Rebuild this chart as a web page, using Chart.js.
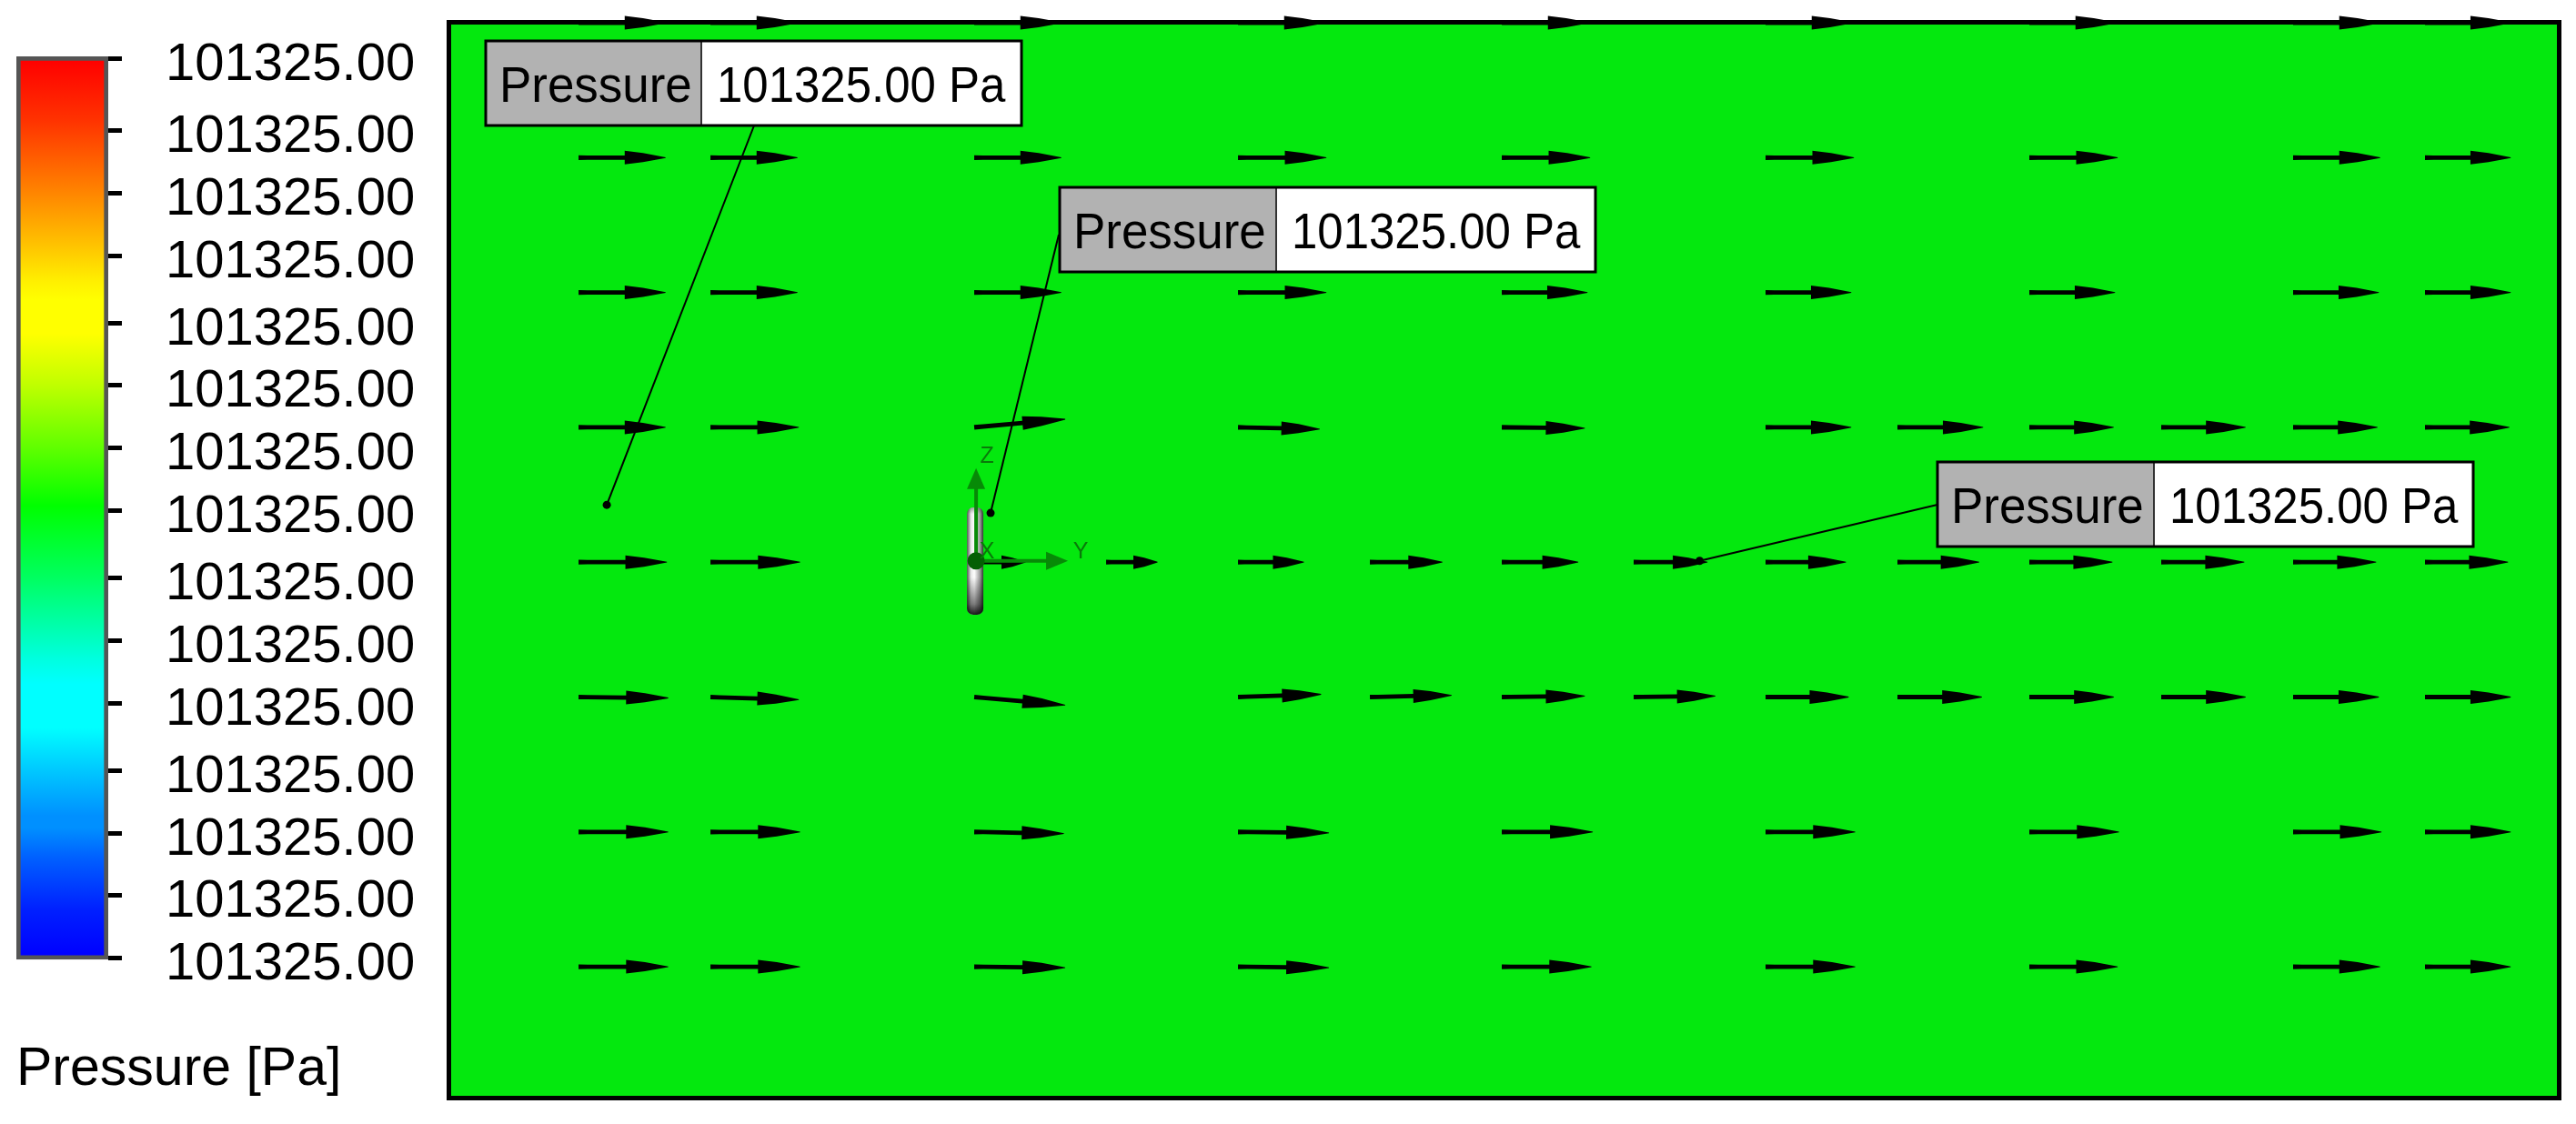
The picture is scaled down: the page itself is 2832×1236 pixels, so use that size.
<!DOCTYPE html>
<html>
<head>
<meta charset="utf-8">
<title>Pressure</title>
<script src="https://cdn.jsdelivr.net/npm/chart.js@4"></script>
<style>
    html,body{margin:0;padding:0;background:#fff;}
    canvas{position:absolute;left:0;top:0;}
</style>
</head>
<body>
<canvas id="plotChart" width="2832" height="1236"></canvas>
<canvas id="legendChart" width="480" height="1236"></canvas>
<script>
// colour bar
const legendTickPos=[989,910,841,772,698,630,561,492,418,349,280,206,137,69,0];
const legendTickLabels=["101325.00","101325.00","101325.00","101325.00","101325.00","101325.00","101325.00","101325.00","101325.00","101325.00","101325.00","101325.00","101325.00","101325.00","101325.00"];
const legendTitle="Pressure [Pa]";
const rampPos=[0,67,141,201,244,264,301,357,426,490,569,614,659,686,734,781,831,844,877,934,985];
const rampColors=["#ff0000","#ff3300","#ff8000","#ffc000","#fff000","#ffff00","#ffff00","#c0ff00","#60ff00","#00ff00","#00ff60","#00ffa0","#00ffe0","#00ffff","#00ffff","#00c8ff","#0090ff","#0090ff","#0060ff","#0020ff","#0000ff"];

// velocity arrows, one list per row of the grid
const row0Cols=[0,1,3,5,7,9,11,13,14];
const row0Len=[.66,.66,.66,.66,.66,.66,.66,.66,.65];
const row1Cols=[0,1,3,5,7,9,11,13,14];
const row1Len=[.66,.66,.66,.67,.67,.67,.67,.66,.65];
const row2Cols=[0,1,3,5,7,9,11,13,14];
const row2Len=[.66,.66,.66,.67,.65,.65,.65,.65,.65];
const row3Cols=[0,1,3,5,7,9,10,11,12,13,14];
const row3Len=[.66,.67,.69,.62,.63,.65,.65,.64,.64,.64,.64];
const row3Tilt=[0,0,-.06,.013,.007,0,0,0,0,0,0];
const row4Cols=[0,1,3,4,5,6,7,8,9,10,11,12,13,14];
const row4Len=[.67,.68,.39,.39,.50,.55,.58,.56,.61,.62,.63,.63,.63,.63];
const row5Cols=[0,1,3,5,6,7,8,9,10,11,12,13,14];
const row5Len=[.68,.67,.69,.63,.62,.63,.62,.63,.64,.64,.64,.65,.65];
const row5Tilt=[.007,.02,.06,-.02,-.013,-.007,-.007,0,0,0,0,0,0];
const row6Cols=[0,1,3,5,7,9,11,13,14];
const row6Len=[.68,.68,.68,.69,.69,.68,.68,.67,.65];
const row6Tilt=[0,0,.013,.007,0,0,0,0,0];
const row7Cols=[0,1,3,5,7,9,11,13,14];
const row7Len=[.68,.68,.69,.69,.68,.68,.67,.66,.65];
const row7Tilt=[0,0,.007,.007,0,0,0,0,0];

// probes: where the leader starts, where it meets the box
const probeCols=[.214,3.124,8.5];
const probeRows=[3.575,3.635,3.99];
const leaderEndCols=[1.331,3.641,10.303];
const leaderEndRows=[.762,1.571,3.574];
const calloutLabel="Pressure";
const calloutValues=["101325.00 Pa","101325.00 Pa","101325.00 Pa"];

// body at the origin
const originCol=3.014;
const originRow=3.99;
const bodyCols=[2.945,3.069];
const bodyRows=[3.594,4.39];

let makeArrows=(row,cols,lens,tilts)=>{
    return cols.map((c,i)=>({x:c,y:row,len:lens[i],tilt:tilts?tilts[i]:0}));
}
let arrowData=[].concat(
    makeArrows(0,row0Cols,row0Len),
    makeArrows(1,row1Cols,row1Len),
    makeArrows(2,row2Cols,row2Len),
    makeArrows(3,row3Cols,row3Len,row3Tilt),
    makeArrows(4,row4Cols,row4Len),
    makeArrows(5,row5Cols,row5Len,row5Tilt),
    makeArrows(6,row6Cols,row6Len,row6Tilt),
    makeArrows(7,row7Cols,row7Len,row7Tilt)
);

const sans='"Liberation Sans", Arial, sans-serif';
const fieldGreen='rgb(4,232,14)';
const axisGreen='#078a07';

// box x, y, divider x, in page pixels
const boxLayout=[[534,45,771],[1165,206,1403],[2130,508,2368]];

let drawArrow=(ctx,x0,y0,x1,y1)=>{
    let L=Math.hypot(x1-x0,y1-y0);
    ctx.save();
    ctx.translate(x0,y0);
    ctx.rotate(Math.atan2(y1-y0,x1-x0));
    ctx.beginPath();
    ctx.moveTo(0,-2.6);
    ctx.lineTo(L*.1,-2.4);
    ctx.lineTo(L*.53,-2.4);
    ctx.lineTo(L*.53,-7.5);
    ctx.lineTo(L*.74,-5);
    ctx.lineTo(L,-.4);
    ctx.lineTo(L,.4);
    ctx.lineTo(L*.74,5);
    ctx.lineTo(L*.53,7.5);
    ctx.lineTo(L*.53,2.4);
    ctx.lineTo(L*.1,2.4);
    ctx.lineTo(0,2.6);
    ctx.closePath();
    ctx.fillStyle='#000';
    ctx.fill();
    ctx.restore();
}

let drawHead=(ctx,tipX,tipY,baseX,baseY,halfW)=>{
    let nx=baseY-tipY, ny=tipX-baseX;
    let n=Math.hypot(nx,ny);
    nx=nx/n*halfW; ny=ny/n*halfW;
    ctx.beginPath();
    ctx.moveTo(tipX,tipY);
    ctx.lineTo(baseX+nx,baseY+ny);
    ctx.lineTo(baseX-nx,baseY-ny);
    ctx.closePath();
    ctx.fill();
}

// callout font is a little taller than it is wide in the picture
let drawSquashed=(ctx,text,x,y,sx)=>{
    ctx.save();
    ctx.translate(x,y);
    ctx.scale(sx,1);
    ctx.fillText(text,0,0);
    ctx.restore();
}

const fieldPlugin={
    id:'field',
    beforeDatasetsDraw(chart){
        let ctx=chart.ctx, a=chart.chartArea;
        ctx.save();
        ctx.fillStyle=fieldGreen;
        ctx.fillRect(a.left,a.top,a.right-a.left,a.bottom-a.top);
        ctx.strokeStyle='#000';
        ctx.lineWidth=5;
        ctx.strokeRect(a.left-2.5,a.top-2.5,a.right-a.left+5,a.bottom-a.top+5);
        // the body
        let xs=chart.scales.x, ys=chart.scales.y;
        let l=xs.getPixelForValue(bodyCols[0]), r=xs.getPixelForValue(bodyCols[1]);
        let t=ys.getPixelForValue(bodyRows[0]), b=ys.getPixelForValue(bodyRows[1]);
        let g=ctx.createLinearGradient(l,0,r,0);
        g.addColorStop(0,'#555');
        g.addColorStop(.25,'#e8e8e8');
        g.addColorStop(.45,'#fff');
        g.addColorStop(.8,'#999');
        g.addColorStop(1,'#333');
        ctx.beginPath();
        ctx.roundRect(l,t,r-l,b-t,7);
        ctx.fillStyle=g;
        ctx.fill();
        let v=ctx.createLinearGradient(0,t,0,b);
        v.addColorStop(0,'rgba(0,0,0,.35)');
        v.addColorStop(.06,'rgba(0,0,0,0)');
        v.addColorStop(.65,'rgba(0,0,0,0)');
        v.addColorStop(.9,'rgba(0,0,0,.5)');
        v.addColorStop(1,'rgba(0,0,0,.9)');
        ctx.fillStyle=v;
        ctx.fill();
        ctx.restore();
    },
    afterDatasetsDraw(chart){
        let ctx=chart.ctx;
        let xs=chart.scales.x, ys=chart.scales.y;
        arrowData.forEach((p)=>{
            drawArrow(ctx,
                xs.getPixelForValue(p.x),ys.getPixelForValue(p.y),
                xs.getPixelForValue(p.x+p.len),ys.getPixelForValue(p.y+p.tilt));
        });

        // axis triad
        let ox=xs.getPixelForValue(originCol), oy=ys.getPixelForValue(originRow);
        ctx.save();
        ctx.strokeStyle=axisGreen;
        ctx.fillStyle=axisGreen;
        ctx.lineWidth=4;
        ctx.beginPath();
        ctx.moveTo(ox,oy-85);
        ctx.lineTo(ox,oy);
        ctx.lineTo(ox+80,oy);
        ctx.stroke();
        drawHead(ctx,ox,oy-102,ox,oy-79,10);
        drawHead(ctx,ox+101,oy,ox+77,oy,10);
        ctx.fillStyle='#055f05';
        ctx.beginPath();
        ctx.arc(ox,oy,9.5,0,Math.PI*2);
        ctx.fill();
        ctx.fillStyle='#0a7a0a';
        ctx.font='25px '+sans;
        ctx.textAlign='center';
        ctx.textBaseline='alphabetic';
        ctx.fillText('Z',ox+12,oy-108);
        ctx.fillText('X',ox+12,oy-3);
        ctx.fillText('Y',ox+115,oy-3);
        ctx.restore();

        // callouts go on top
        boxLayout.forEach((b,i)=>{
            let bw=589, bh=93;
            ctx.save();
            ctx.fillStyle='#b2b2b2';
            ctx.fillRect(b[0],b[1],b[2]-b[0],bh);
            ctx.fillStyle='#fff';
            ctx.fillRect(b[2],b[1],b[0]+bw-b[2],bh);
            ctx.strokeStyle='#333';
            ctx.lineWidth=2;
            ctx.beginPath();
            ctx.moveTo(b[2],b[1]);
            ctx.lineTo(b[2],b[1]+bh);
            ctx.stroke();
            ctx.strokeStyle='#000';
            ctx.lineWidth=3;
            ctx.strokeRect(b[0],b[1],bw,bh);
            ctx.fillStyle='#000';
            ctx.font='56px '+sans;
            ctx.textAlign='left';
            ctx.textBaseline='alphabetic';
            drawSquashed(ctx,calloutLabel,b[0]+15,b[1]+67,.945);
            drawSquashed(ctx,calloutValues[i],b[2]+17,b[1]+67,.91);
            ctx.restore();
        });
    }
}

let leaderSets=probeCols.map((c,i)=>({
    type:'scatter',
    showLine:true,
    data:[{x:c,y:probeRows[i]},{x:leaderEndCols[i],y:leaderEndRows[i]}],
    borderColor:'#000',
    backgroundColor:'#000',
    borderWidth:2,
    pointRadius:[4.5,0],
    pointBorderWidth:0,
    clip:false
}));

new Chart(document.getElementById('plotChart'),{
    type:'scatter',
    data:{datasets:[{data:arrowData,pointRadius:0,showLine:false,clip:false}].concat(leaderSets)},
    plugins:[fieldPlugin],
    options:{
        responsive:false,
        animation:false,
        layout:{padding:{left:496,right:21,top:27,bottom:31}},
        plugins:{legend:{display:false},tooltip:{enabled:false}},
        scales:{
            x:{type:'linear',display:false,min:-.966,max:15},
            y:{type:'linear',display:false,reverse:true,min:.0135,max:7.957}
        }
    }
});

new Chart(document.getElementById('legendChart'),{
    type:'bar',
    data:{
        labels:[legendTitle],
        datasets:[{
            data:[[-2,991]],
            backgroundColor:(c)=>{
                let area=c.chart.chartArea;
                if(!area) return '#fff';
                let top=area.top+4, bottom=area.bottom-4;
                let g=c.chart.ctx.createLinearGradient(0,top,0,bottom);
                rampPos.forEach((p,i)=>g.addColorStop(p/985,rampColors[i]));
                return g;
            },
            borderColor:'#555',
            borderWidth:5,
            borderSkipped:false,
            barPercentage:1,
            categoryPercentage:1
        }]
    },
    options:{
        responsive:false,
        animation:false,
        layout:{padding:{left:18,top:62,right:0,bottom:0}},
        plugins:{
            legend:{display:false},
            tooltip:{enabled:false},
            title:{
                display:true,
                position:'bottom',
                text:legendTitle,
                align:'start',
                color:'#000',
                font:{family:sans,size:59,weight:'normal',lineHeight:1.2},
                padding:{top:86,bottom:24}
            }
        },
        scales:{
            x:{display:false},
            y:{
                position:'right',
                min:-2,
                max:991,
                afterBuildTicks:(s)=>{s.ticks=legendTickPos.map((v)=>({value:v}));},
                grid:{drawOnChartArea:false,tickLength:15,color:'#000',lineWidth:5},
                border:{display:false},
                ticks:{
                    autoSkip:false,
                    maxRotation:0,
                    padding:48,
                    labelOffset:8,
                    color:'#000',
                    font:{family:sans,size:58},
                    callback:(v,i)=>legendTickLabels[i]
                },
                afterFit:(s)=>{s.width=361;s.paddingTop=0;s.paddingBottom=0;}
            }
        }
    }
});
</script>
</body>
</html>
